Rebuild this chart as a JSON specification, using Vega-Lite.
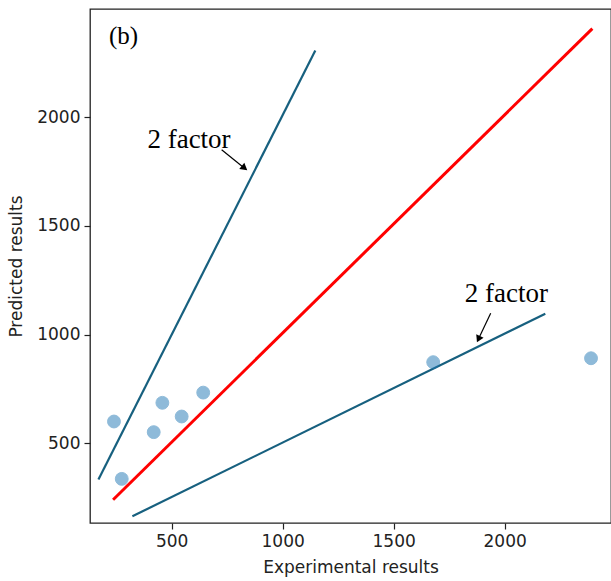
{
  "$schema": "https://vega.github.io/schema/vega-lite/v6.json",
  "autosize": "none",
  "padding": {"left": 90, "top": 9, "right": 0, "bottom": 58},
  "width": 521,
  "height": 514,
  "background": "white",
  "config": {
    "view": {"stroke": "#222", "strokeWidth": 1.3},
    "axis": {
      "domain": false,
      "grid": false,
      "labelFont": "DejaVu Sans",
      "labelFontSize": 17,
      "labelColor": "#222",
      "titleFont": "DejaVu Sans",
      "titleFontSize": 17,
      "titleFontWeight": "normal",
      "titleColor": "#222",
      "tickColor": "#222",
      "tickSize": 6,
      "tickWidth": 1.2,
      "labelPadding": 4,
      "format": "d"
    }
  },
  "datasets": {
    "points": [
      {"exp": 240, "pred": 600},
      {"exp": 275, "pred": 336},
      {"exp": 458, "pred": 686},
      {"exp": 419, "pred": 551},
      {"exp": 545, "pred": 623},
      {"exp": 642, "pred": 733},
      {"exp": 1678, "pred": 873},
      {"exp": 2389, "pred": 891}
    ],
    "lines": [
      {"series": "ideal", "exp": 236, "pred": 240},
      {"series": "ideal", "exp": 2395, "pred": 2408},
      {"series": "upper", "exp": 170, "pred": 333},
      {"series": "upper", "exp": 1147, "pred": 2307},
      {"series": "lower", "exp": 323, "pred": 164},
      {"series": "lower", "exp": 2183, "pred": 1096}
    ],
    "labels": [
      {"label": "(b)", "exp": 283, "pred": 2336, "size": 25},
      {"label": "2 factor", "exp": 578, "pred": 1859, "size": 27},
      {"label": "2 factor", "exp": 2008, "pred": 1150, "size": 27}
    ],
    "arrows": [
      {"id": "a", "exp": 725, "pred": 1850},
      {"id": "a", "exp": 824, "pred": 1769},
      {"id": "b", "exp": 1937, "pred": 1098},
      {"id": "b", "exp": 1884, "pred": 984}
    ],
    "heads": [
      {"exp": 824, "pred": 1769, "angle": 129},
      {"exp": 1884, "pred": 984, "angle": 205}
    ]
  },
  "encoding": {
    "x": {
      "field": "exp",
      "type": "quantitative",
      "scale": {"domain": [132, 2479], "nice": false, "zero": false},
      "axis": {"title": "Experimental results", "values": [500, 1000, 1500, 2000], "titlePadding": 10}
    },
    "y": {
      "field": "pred",
      "type": "quantitative",
      "scale": {"domain": [133, 2498], "nice": false, "zero": false},
      "axis": {"title": "Predicted results", "values": [500, 1000, 1500, 2000], "titlePadding": 11}
    }
  },
  "layer": [
    {
      "data": {"name": "lines"},
      "transform": [{"filter": "datum.series === 'upper'"}],
      "mark": {"type": "line", "color": "#17607f", "strokeWidth": 2.2}
    },
    {
      "data": {"name": "lines"},
      "transform": [{"filter": "datum.series === 'lower'"}],
      "mark": {"type": "line", "color": "#17607f", "strokeWidth": 2.2}
    },
    {
      "data": {"name": "lines"},
      "transform": [{"filter": "datum.series === 'ideal'"}],
      "mark": {"type": "line", "color": "#ff0000", "strokeWidth": 3}
    },
    {
      "data": {"name": "points"},
      "mark": {"type": "circle", "size": 165, "color": "#1f77b4", "opacity": 0.5, "stroke": "#1f77b4", "strokeWidth": 1}
    },
    {
      "data": {"name": "arrows"},
      "mark": {"type": "line", "color": "black", "strokeWidth": 1.2},
      "encoding": {"detail": {"field": "id"}}
    },
    {
      "data": {"name": "heads"},
      "mark": {"type": "point", "shape": "triangle", "filled": true, "color": "black", "size": 65, "opacity": 1},
      "encoding": {"angle": {"field": "angle", "type": "quantitative", "scale": null}}
    },
    {
      "data": {"name": "labels"},
      "mark": {"type": "text", "font": "Liberation Serif", "color": "black", "align": "center", "baseline": "alphabetic"},
      "encoding": {
        "text": {"field": "label"},
        "size": {"field": "size", "type": "quantitative", "scale": null}
      }
    }
  ]
}
